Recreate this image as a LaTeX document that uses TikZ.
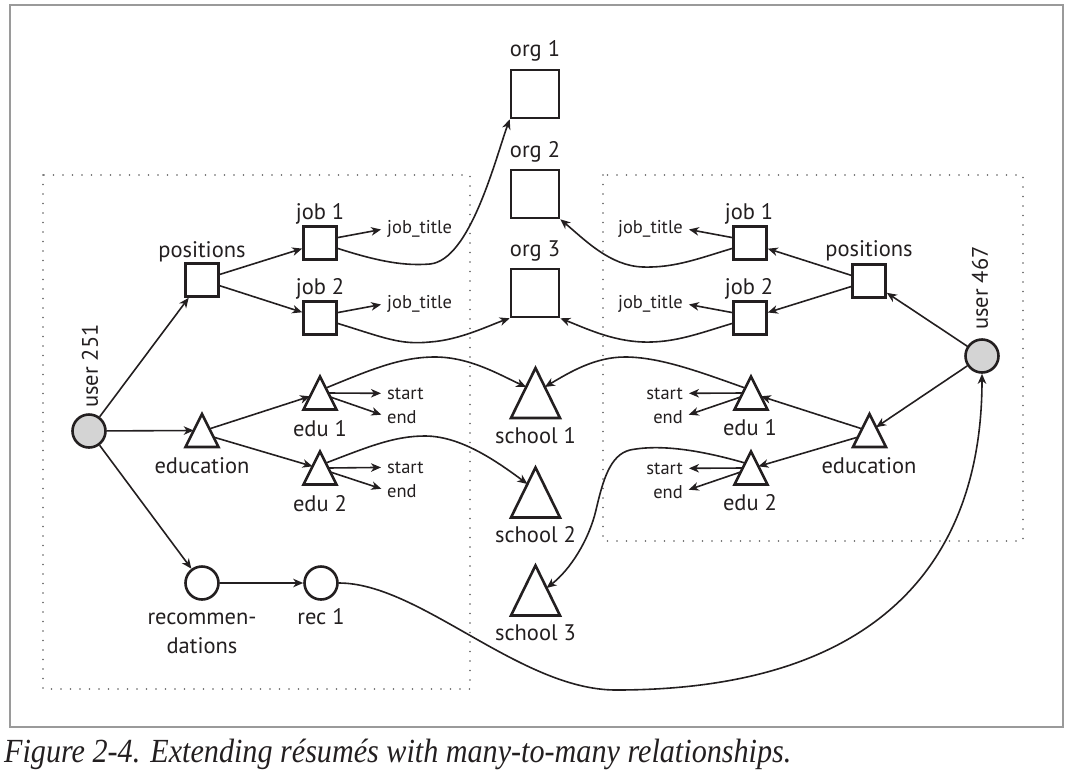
\documentclass[tikz,border=0pt]{standalone}
\usepackage{fontspec}
\setmainfont{PT Sans}
\newfontfamily\capfont{Liberation Serif}
\usetikzlibrary{arrows.meta,calc}
\definecolor{ink}{HTML}{231F20}
\definecolor{frame}{HTML}{9A9A9A}
\definecolor{dotc}{HTML}{5E5E5E}
\definecolor{ufill}{HTML}{D4D4D4}
\begin{document}
\begin{tikzpicture}[x=1pt,y=-1pt,
  sq/.style={draw=ink,line width=2.6pt,minimum size=33pt,inner sep=0pt,fill=white},
  bigsq/.style={sq,minimum size=48pt},
  tristroke/.style={draw=ink,fill=white,line width=2.6pt},
  tri/.style={rectangle,minimum width=33pt,minimum height=33pt,inner sep=0pt,outer sep=0pt,
    append after command={\pgfextra{\draw[tristroke] (\tikzlastnode.north) -- (\tikzlastnode.south east)
      -- (\tikzlastnode.south west) -- cycle;}}},
  bigtri/.style={tri,minimum width=49pt,minimum height=50pt},
  usr/.style={circle,draw=ink,line width=2.6pt,fill=ufill,minimum size=33pt,inner sep=0pt},
  recn/.style={circle,draw=ink,line width=2.6pt,fill=white,minimum size=33pt,inner sep=0pt},
  lbl/.style={font=\fontsize{22.5}{25}\selectfont,text=ink,inner sep=0pt},
  sml/.style={font=\fontsize{18.5}{21}\selectfont,text=ink,inner sep=0pt},
  conn/.style={draw=ink,line width=1.6pt,-{Stealth[length=10pt,width=8.5pt,inset=3pt]}},
  dotbox/.style={draw=dotc,line width=1.9pt,line cap=round,dash pattern=on 0pt off 9.5pt},
]
\useasboundingbox (0,0) rectangle (1079,769);
\draw[frame,line width=1.2pt] (10,5) rectangle (1063,727);
\draw[dotbox] (43,175) rectangle (470,689);
\draw[dotbox] (603,175) rectangle (1023,541);

% ---------- left user ----------
\node[usr] (u1) at (89,431) {};
\node[lbl,rotate=90] (u1l) at (90,366) {user 251};
\node[sq] (p1) at (202,280) {};
\node[lbl,anchor=base] (p1l) at (202,257) {positions};
\node[sq] (j1) at (320,243) {};
\node[lbl,anchor=base] (j1l) at (320,219) {job 1};
\node[sq] (j2) at (320,318) {};
\node[lbl,anchor=base] (j2l) at (320,294) {job 2};
\node[sml,anchor=base west] (jt1) at (387,233) {job\_title};
\node[sml,anchor=base west] (jt2) at (387,308) {job\_title};
\node[tri] (e1) at (202,430.5) {};
\node[lbl,anchor=base] (e1l) at (202,473) {education};
\node[tri] (ea) at (320,393) {};
\node[lbl,anchor=base] (eal) at (320,436) {edu 1};
\node[tri] (eb) at (320,468) {};
\node[lbl,anchor=base] (ebl) at (320,511) {edu 2};
\node[sml,anchor=base west] (sa) at (387,399) {start};
\node[sml,anchor=base west] (na) at (387,423) {end};
\node[sml,anchor=base west] (sb) at (387,473) {start};
\node[sml,anchor=base west] (nb) at (387,497) {end};
\node[recn] (r1) at (202,583) {};
\node[lbl,anchor=base] (r1l) at (202,624) {recommen-};
\node[lbl,anchor=base] (r1m) at (202,653) {dations};
\node[recn] (ra) at (321,583) {};
\node[lbl,anchor=base] (ral) at (321,624) {rec 1};

% ---------- middle ----------
\node[bigsq] (o1) at (535,94) {};
\node[lbl,anchor=base] (o1l) at (535,56) {org 1};
\node[bigsq] (o2) at (535,194) {};
\node[lbl,anchor=base] (o2l) at (535,157) {org 2};
\node[bigsq] (o3) at (535,293) {};
\node[lbl,anchor=base] (o3l) at (535,256) {org 3};
\node[bigtri] (s1) at (535.5,393) {};
\node[lbl,anchor=base] (s1l) at (535.5,443) {school 1};
\node[bigtri] (s2) at (535.5,492.5) {};
\node[lbl,anchor=base] (s2l) at (535.5,542) {school 2};
\node[bigtri] (s3) at (535.5,590.5) {};
\node[lbl,anchor=base] (s3l) at (535.5,640) {school 3};

% ---------- right user ----------
\node[usr] (u2) at (982,356) {};
\node[lbl,rotate=90] (u2l) at (980,288) {user 467};
\node[sq] (rp) at (869,281) {};
\node[lbl,anchor=base] (rpl) at (869,256) {positions};
\node[sq] (rj1) at (750,243) {};
\node[lbl,anchor=base] (rj1l) at (749,219) {job 1};
\node[sq] (rj2) at (750,318) {};
\node[lbl,anchor=base] (rj2l) at (749,294) {job 2};
\node[sml,anchor=base east] (rjt1) at (683,233) {job\_title};
\node[sml,anchor=base east] (rjt2) at (683,308) {job\_title};
\node[tri] (re) at (869.5,430.5) {};
\node[lbl,anchor=base] (rel) at (869,473) {education};
\node[tri] (rea) at (751,393) {};
\node[lbl,anchor=base] (real) at (750,435) {edu 1};
\node[tri] (reb) at (751,468) {};
\node[lbl,anchor=base] (rebl) at (750,510) {edu 2};
\node[sml,anchor=base east] (rsa) at (683,399) {start};
\node[sml,anchor=base east] (rna) at (683,423) {end};
\node[sml,anchor=base east] (rsb) at (683,474) {start};
\node[sml,anchor=base east] (rnb) at (683,498) {end};

% ---------- straight connectors, left ----------
\draw[conn] (u1) -- (p1);
\draw[conn] (u1) -- ($(e1.north)!0.5!(e1.south west)$);
\draw[conn] (u1) -- (r1);
\draw[conn] (p1) -- (j1);
\draw[conn] (p1) -- (j2);
\draw[conn] ($(e1.north)!0.45!(e1.south east)$) -- ($(ea.north)!0.6!(ea.south west)$);
\draw[conn] ($(e1.north)!0.7!(e1.south east)$) -- ($(eb.north)!0.45!(eb.south west)$);
\draw[conn] (r1) -- (ra);
\draw[conn,shorten >=6pt] (j1.17) -- (jt1.west);
\draw[conn,shorten >=6pt] (j2.17) -- (jt2.west);
\draw[conn,shorten >=6pt] ($(ea.north)!0.5!(ea.south east)$) -- (sa.west);
\draw[conn,shorten >=6pt] ($(ea.north)!0.62!(ea.south east)$) -- (na.west);
\draw[conn,shorten >=6pt] ($(eb.north)!0.5!(eb.south east)$) -- (sb.west);
\draw[conn,shorten >=6pt] ($(eb.north)!0.62!(eb.south east)$) -- (nb.west);

% ---------- straight connectors, right ----------
\draw[conn] (u2) -- (rp);
\draw[conn] (u2) -- ($(re.north)!0.4!(re.south east)$);
\draw[conn] (rp) -- (rj1);
\draw[conn] (rp) -- (rj2);
\draw[conn] ($(re.north)!0.45!(re.south west)$) -- ($(rea.north)!0.6!(rea.south east)$);
\draw[conn] ($(re.north)!0.7!(re.south west)$) -- ($(reb.north)!0.45!(reb.south east)$);
\draw[conn,shorten >=6pt] (rj1.163) -- (rjt1.east);
\draw[conn,shorten >=6pt] (rj2.163) -- (rjt2.east);
\draw[conn,shorten >=6pt] ($(rea.north)!0.5!(rea.south west)$) -- (rsa.east);
\draw[conn,shorten >=6pt] ($(rea.north)!0.62!(rea.south west)$) -- (rna.east);
\draw[conn,shorten >=6pt] ($(reb.north)!0.5!(reb.south west)$) -- (rsb.east);
\draw[conn,shorten >=6pt] ($(reb.north)!0.62!(reb.south west)$) -- (rnb.east);

% ---------- curved connectors ----------
\draw[conn] (j1.-17) .. controls (380,262) and (405,266) .. (430,264)
  .. controls (470,260) and (495,160) .. (o1.south west);
\draw[conn] (j2.-17) .. controls (385,338) and (400,345) .. (430,342)
  .. controls (460,340) and (490,325) .. (o3.south west);
\draw[conn] (rj1.197) .. controls (700,258) and (675,268) .. (643,267)
  .. controls (610,266) and (585,240) .. (o2.south east);
\draw[conn] (rj2.197) .. controls (700,333) and (675,343) .. (643,342)
  .. controls (612,341) and (585,328) .. (o3.south east);
\draw[conn] ($(ea.north)!0.35!(ea.south east)$) .. controls (370,370) and (400,357) .. (435,357)
  .. controls (470,357) and (500,375) .. ($(s1.north)!0.38!(s1.south west)$);
\draw[conn] ($(rea.north)!0.35!(rea.south west)$) .. controls (700,372) and (660,357) .. (625,357)
  .. controls (595,357) and (570,372) .. ($(s1.north)!0.38!(s1.south east)$);
\draw[conn] ($(eb.north)!0.35!(eb.south east)$) .. controls (370,446) and (395,436) .. (425,436)
  .. controls (460,436) and (495,460) .. ($(s2.north)!0.33!(s2.south west)$);
\draw[conn] ($(reb.north)!0.35!(reb.south west)$) .. controls (700,450) and (660,444) .. (630,450)
  .. controls (610,455) and (603,480) .. (596,510)
  .. controls (589,540) and (570,570) .. ($(s3.north)!0.45!(s3.south east)$);
\draw[conn] (ra) .. controls (420,583) and (520,690) .. (616,690)
  .. controls (880,690) and (982,560) .. (u2);

% ---------- caption ----------
\node[anchor=base west,inner sep=0pt,text=ink] (cap) at (4,762)
  {\scalebox{1}[1.12]{\resizebox{787pt}{!}{\capfont\itshape Figure 2-4. Extending résumés with many-to-many relationships.}}};
\end{tikzpicture}
\end{document}
